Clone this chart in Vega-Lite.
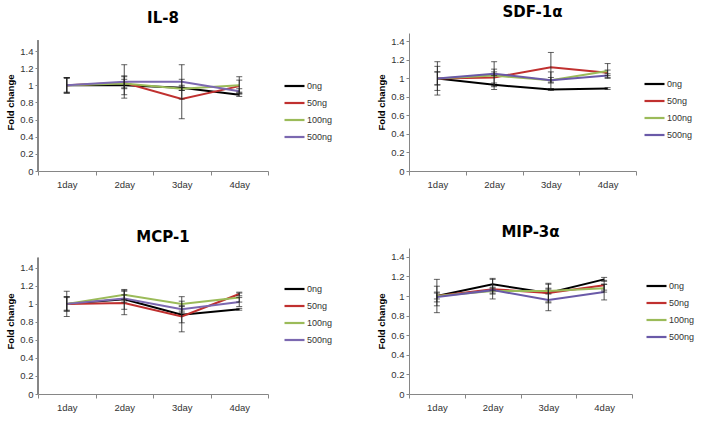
{
  "$schema": "https://vega.github.io/schema/vega-lite/v6.json",
  "background": "white",
  "padding": {"left": 5, "top": 5, "right": 5, "bottom": 5},
  "datasets": {
    "d": [
      {"p": "IL-8", "day": "1day", "dose": "0ng", "v": 1.0, "lo": 0.91, "hi": 1.09},
      {"p": "IL-8", "day": "1day", "dose": "50ng", "v": 1.0, "lo": 0.91, "hi": 1.09},
      {"p": "IL-8", "day": "1day", "dose": "100ng", "v": 1.0, "lo": 0.92, "hi": 1.08},
      {"p": "IL-8", "day": "1day", "dose": "500ng", "v": 1.0, "lo": 0.91, "hi": 1.09},
      {"p": "IL-8", "day": "2day", "dose": "0ng", "v": 1.0, "lo": 0.89, "hi": 1.11},
      {"p": "IL-8", "day": "2day", "dose": "50ng", "v": 1.03, "lo": 0.96, "hi": 1.10},
      {"p": "IL-8", "day": "2day", "dose": "100ng", "v": 1.02, "lo": 0.97, "hi": 1.07},
      {"p": "IL-8", "day": "2day", "dose": "500ng", "v": 1.04, "lo": 0.85, "hi": 1.24},
      {"p": "IL-8", "day": "3day", "dose": "0ng", "v": 0.97, "lo": 0.94, "hi": 1.0},
      {"p": "IL-8", "day": "3day", "dose": "50ng", "v": 0.84, "lo": 0.61, "hi": 1.07},
      {"p": "IL-8", "day": "3day", "dose": "100ng", "v": 0.96, "lo": 0.94, "hi": 0.98},
      {"p": "IL-8", "day": "3day", "dose": "500ng", "v": 1.04, "lo": 0.84, "hi": 1.24},
      {"p": "IL-8", "day": "4day", "dose": "0ng", "v": 0.89, "lo": 0.87, "hi": 0.91},
      {"p": "IL-8", "day": "4day", "dose": "50ng", "v": 0.99, "lo": 0.92, "hi": 1.06},
      {"p": "IL-8", "day": "4day", "dose": "100ng", "v": 1.0, "lo": 0.90, "hi": 1.10},
      {"p": "IL-8", "day": "4day", "dose": "500ng", "v": 0.93, "lo": 0.90, "hi": 0.96},

      {"p": "SDF-1α", "day": "1day", "dose": "0ng", "v": 1.0, "lo": 0.93, "hi": 1.07},
      {"p": "SDF-1α", "day": "1day", "dose": "50ng", "v": 1.0, "lo": 0.82, "hi": 1.18},
      {"p": "SDF-1α", "day": "1day", "dose": "100ng", "v": 1.0, "lo": 0.87, "hi": 1.13},
      {"p": "SDF-1α", "day": "1day", "dose": "500ng", "v": 1.0, "lo": 0.93, "hi": 1.07},
      {"p": "SDF-1α", "day": "2day", "dose": "0ng", "v": 0.93, "lo": 0.91, "hi": 0.95},
      {"p": "SDF-1α", "day": "2day", "dose": "50ng", "v": 1.01, "lo": 0.92, "hi": 1.10},
      {"p": "SDF-1α", "day": "2day", "dose": "100ng", "v": 1.03, "lo": 0.88, "hi": 1.18},
      {"p": "SDF-1α", "day": "2day", "dose": "500ng", "v": 1.05, "lo": 1.03, "hi": 1.07},
      {"p": "SDF-1α", "day": "3day", "dose": "0ng", "v": 0.88, "lo": 0.87, "hi": 0.89},
      {"p": "SDF-1α", "day": "3day", "dose": "50ng", "v": 1.12, "lo": 0.96, "hi": 1.28},
      {"p": "SDF-1α", "day": "3day", "dose": "100ng", "v": 0.98, "lo": 0.95, "hi": 1.01},
      {"p": "SDF-1α", "day": "3day", "dose": "500ng", "v": 0.98, "lo": 0.89, "hi": 1.07},
      {"p": "SDF-1α", "day": "4day", "dose": "0ng", "v": 0.89, "lo": 0.88, "hi": 0.90},
      {"p": "SDF-1α", "day": "4day", "dose": "50ng", "v": 1.06, "lo": 1.03, "hi": 1.09},
      {"p": "SDF-1α", "day": "4day", "dose": "100ng", "v": 1.08, "lo": 1.00, "hi": 1.16},
      {"p": "SDF-1α", "day": "4day", "dose": "500ng", "v": 1.03, "lo": 1.01, "hi": 1.05},

      {"p": "MCP-1", "day": "1day", "dose": "0ng", "v": 1.0, "lo": 0.92, "hi": 1.08},
      {"p": "MCP-1", "day": "1day", "dose": "50ng", "v": 1.0, "lo": 0.86, "hi": 1.14},
      {"p": "MCP-1", "day": "1day", "dose": "100ng", "v": 1.0, "lo": 0.93, "hi": 1.07},
      {"p": "MCP-1", "day": "1day", "dose": "500ng", "v": 1.0, "lo": 0.92, "hi": 1.08},
      {"p": "MCP-1", "day": "2day", "dose": "0ng", "v": 1.05, "lo": 0.94, "hi": 1.16},
      {"p": "MCP-1", "day": "2day", "dose": "50ng", "v": 1.01, "lo": 0.88, "hi": 1.14},
      {"p": "MCP-1", "day": "2day", "dose": "100ng", "v": 1.10, "lo": 1.05, "hi": 1.15},
      {"p": "MCP-1", "day": "2day", "dose": "500ng", "v": 1.06, "lo": 1.02, "hi": 1.10},
      {"p": "MCP-1", "day": "3day", "dose": "0ng", "v": 0.88, "lo": 0.79, "hi": 0.97},
      {"p": "MCP-1", "day": "3day", "dose": "50ng", "v": 0.86, "lo": 0.69, "hi": 1.03},
      {"p": "MCP-1", "day": "3day", "dose": "100ng", "v": 1.0, "lo": 0.92, "hi": 1.08},
      {"p": "MCP-1", "day": "3day", "dose": "500ng", "v": 0.94, "lo": 0.90, "hi": 0.98},
      {"p": "MCP-1", "day": "4day", "dose": "0ng", "v": 0.94, "lo": 0.93, "hi": 0.95},
      {"p": "MCP-1", "day": "4day", "dose": "50ng", "v": 1.11, "lo": 1.09, "hi": 1.13},
      {"p": "MCP-1", "day": "4day", "dose": "100ng", "v": 1.07, "lo": 1.02, "hi": 1.12},
      {"p": "MCP-1", "day": "4day", "dose": "500ng", "v": 1.02, "lo": 0.97, "hi": 1.07},

      {"p": "MIP-3α", "day": "1day", "dose": "0ng", "v": 1.0, "lo": 0.83, "hi": 1.17},
      {"p": "MIP-3α", "day": "1day", "dose": "50ng", "v": 1.0, "lo": 0.90, "hi": 1.10},
      {"p": "MIP-3α", "day": "1day", "dose": "100ng", "v": 1.0, "lo": 0.97, "hi": 1.03},
      {"p": "MIP-3α", "day": "1day", "dose": "500ng", "v": 0.99, "lo": 0.94, "hi": 1.04},
      {"p": "MIP-3α", "day": "2day", "dose": "0ng", "v": 1.12, "lo": 1.06, "hi": 1.18},
      {"p": "MIP-3α", "day": "2day", "dose": "50ng", "v": 1.07, "lo": 0.97, "hi": 1.17},
      {"p": "MIP-3α", "day": "2day", "dose": "100ng", "v": 1.05, "lo": 1.02, "hi": 1.08},
      {"p": "MIP-3α", "day": "2day", "dose": "500ng", "v": 1.06, "lo": 1.03, "hi": 1.09},
      {"p": "MIP-3α", "day": "3day", "dose": "0ng", "v": 1.03, "lo": 0.93, "hi": 1.13},
      {"p": "MIP-3α", "day": "3day", "dose": "50ng", "v": 1.03, "lo": 0.94, "hi": 1.12},
      {"p": "MIP-3α", "day": "3day", "dose": "100ng", "v": 1.05, "lo": 1.02, "hi": 1.08},
      {"p": "MIP-3α", "day": "3day", "dose": "500ng", "v": 0.96, "lo": 0.85, "hi": 1.07},
      {"p": "MIP-3α", "day": "4day", "dose": "0ng", "v": 1.17, "lo": 1.15, "hi": 1.19},
      {"p": "MIP-3α", "day": "4day", "dose": "50ng", "v": 1.11, "lo": 1.06, "hi": 1.16},
      {"p": "MIP-3α", "day": "4day", "dose": "100ng", "v": 1.08, "lo": 1.04, "hi": 1.12},
      {"p": "MIP-3α", "day": "4day", "dose": "500ng", "v": 1.04, "lo": 0.96, "hi": 1.12}
    ]
  },
  "config": {
    "view": {"stroke": null},
    "font": "Liberation Sans",
    "axis": {"grid": false, "domainColor": "#868686", "tickColor": "#868686", "labelColor": "#333333", "labelFontSize": 9.5, "labelFont": "Liberation Sans", "titleFont": "Liberation Sans", "titleFontSize": 9.5, "titleFontWeight": "bold", "titleColor": "#000000"},
    "axisX": {"title": null, "labelAngle": 0, "tickBand": "extent", "tickSize": 4, "labelPadding": 4},
    "axisY": {"tickSize": 3, "labelPadding": 2, "titlePadding": 4},
    "title": {"font": "DejaVu Sans", "fontSize": 15, "fontWeight": "bold", "color": "#000000", "dx": 10},
    "legend": {"orient": "none", "symbolType": "stroke", "symbolSize": 400, "symbolStrokeWidth": 2.2, "clipHeight": 14, "rowPadding": 3, "labelFontSize": 9, "labelColor": "#333333", "labelOffset": 1, "padding": 0, "title": null}
  },
  "spacing": 36,
  "resolve": {"scale": {"color": "independent"}, "legend": {"color": "independent"}},
  "vconcat": [
    {
      "spacing": 43,
      "resolve": {"scale": {"color": "independent"}, "legend": {"color": "independent"}},
      "hconcat": [
        {
          "width": 230, "height": 138,
          "title": {"text": "IL-8", "offset": 7},
          "data": {"name": "d"},
          "transform": [{"filter": "datum.p === 'IL-8'"}],
          "encoding": {"x": {"field": "day", "type": "nominal", "sort": ["1day", "2day", "3day", "4day"], "scale": {"type": "band", "paddingInner": 0, "paddingOuter": 0}}},
          "layer": [
            {"mark": {"type": "rule", "color": "#868686", "strokeWidth": 1}, "encoding": {
              "x": {"datum": "1day", "type": "nominal", "bandPosition": 0},
              "y": {"datum": 0, "type": "quantitative", "axis": {"title": "Fold change", "domain": false, "values": [0, 0.2, 0.4, 0.6, 0.8, 1, 1.2, 1.4], "format": "~g", "labelOverlap": false}}, "y2": {"datum": 1.52}}},
            {"mark": {"type": "line", "strokeWidth": 2}, "encoding": {
              "y": {"field": "v", "type": "quantitative", "scale": {"domain": [0, 1.61], "nice": false}, "axis": {"title": "Fold change", "domain": false, "values": [0, 0.2, 0.4, 0.6, 0.8, 1, 1.2, 1.4], "format": "~g", "labelOverlap": false}},
              "color": {"field": "dose", "type": "nominal", "sort": ["0ng", "50ng", "100ng", "500ng"], "scale": {"domain": ["0ng", "50ng", "100ng", "500ng"], "range": ["#000000", "#c0302f", "#9bbb59", "#7b68b0"]}, "legend": {"legendX": 245, "legendY": 46}}}},
            {"mark": {"type": "errorbar", "color": "#222222", "thickness": 0.8, "ticks": {"size": 6, "thickness": 1}}, "encoding": {
              "y": {"field": "lo", "type": "quantitative", "axis": {"title": "Fold change", "domain": false, "values": [0, 0.2, 0.4, 0.6, 0.8, 1, 1.2, 1.4], "format": "~g", "labelOverlap": false}}, "y2": {"field": "hi"}, "detail": {"field": "dose"}}}
          ]
        },
        {
          "width": 227, "height": 138,
          "title": {"text": "SDF-1α", "offset": 13},
          "data": {"name": "d"},
          "transform": [{"filter": "datum.p === 'SDF-1α'"}],
          "encoding": {"x": {"field": "day", "type": "nominal", "sort": ["1day", "2day", "3day", "4day"], "scale": {"type": "band", "paddingInner": 0, "paddingOuter": 0}}},
          "layer": [
            {"mark": {"type": "line", "strokeWidth": 2}, "encoding": {
              "y": {"field": "v", "type": "quantitative", "scale": {"domain": [0, 1.49], "nice": false}, "axis": {"title": "Fold change", "values": [0, 0.2, 0.4, 0.6, 0.8, 1, 1.2, 1.4], "format": "~g"}},
              "color": {"field": "dose", "type": "nominal", "sort": ["0ng", "50ng", "100ng", "500ng"], "scale": {"domain": ["0ng", "50ng", "100ng", "500ng"], "range": ["#000000", "#c0302f", "#9bbb59", "#6a5aa8"]}, "legend": {"legendX": 234, "legendY": 44}}}},
            {"mark": {"type": "errorbar", "color": "#222222", "thickness": 0.8, "ticks": {"size": 6, "thickness": 1}}, "encoding": {
              "y": {"field": "lo", "type": "quantitative", "axis": {"title": "Fold change", "values": [0, 0.2, 0.4, 0.6, 0.8, 1, 1.2, 1.4], "format": "~g"}}, "y2": {"field": "hi"}, "detail": {"field": "dose"}}}
          ]
        }
      ]
    },
    {
      "spacing": 43,
      "resolve": {"scale": {"color": "independent"}, "legend": {"color": "independent"}},
      "hconcat": [
        {
          "width": 230, "height": 146,
          "title": {"text": "MCP-1", "offset": 3},
          "data": {"name": "d"},
          "transform": [{"filter": "datum.p === 'MCP-1'"}],
          "encoding": {"x": {"field": "day", "type": "nominal", "sort": ["1day", "2day", "3day", "4day"], "scale": {"type": "band", "paddingInner": 0, "paddingOuter": 0}}},
          "layer": [
            {"mark": {"type": "rule", "color": "#868686", "strokeWidth": 1}, "encoding": {
              "x": {"datum": "1day", "type": "nominal", "bandPosition": 0},
              "y": {"datum": 0, "type": "quantitative", "axis": {"title": "Fold change", "domain": false, "values": [0, 0.2, 0.4, 0.6, 0.8, 1, 1.2, 1.4], "format": "~g", "labelOverlap": false}}, "y2": {"datum": 1.51}}},
            {"mark": {"type": "line", "strokeWidth": 2}, "encoding": {
              "y": {"field": "v", "type": "quantitative", "scale": {"domain": [0, 1.62], "nice": false}, "axis": {"title": "Fold change", "domain": false, "values": [0, 0.2, 0.4, 0.6, 0.8, 1, 1.2, 1.4], "format": "~g", "labelOverlap": false}},
              "color": {"field": "dose", "type": "nominal", "sort": ["0ng", "50ng", "100ng", "500ng"], "scale": {"domain": ["0ng", "50ng", "100ng", "500ng"], "range": ["#000000", "#c0302f", "#9bbb59", "#7b68b0"]}, "legend": {"legendX": 245, "legendY": 34}}}},
            {"mark": {"type": "errorbar", "color": "#222222", "thickness": 0.8, "ticks": {"size": 6, "thickness": 1}}, "encoding": {
              "y": {"field": "lo", "type": "quantitative", "axis": {"title": "Fold change", "domain": false, "values": [0, 0.2, 0.4, 0.6, 0.8, 1, 1.2, 1.4], "format": "~g", "labelOverlap": false}}, "y2": {"field": "hi"}, "detail": {"field": "dose"}}}
          ]
        },
        {
          "width": 223, "height": 146,
          "title": {"text": "MIP-3α", "offset": 8},
          "data": {"name": "d"},
          "transform": [{"filter": "datum.p === 'MIP-3α'"}],
          "encoding": {"x": {"field": "day", "type": "nominal", "sort": ["1day", "2day", "3day", "4day"], "scale": {"type": "band", "paddingInner": 0, "paddingOuter": 0}}},
          "layer": [
            {"mark": {"type": "line", "strokeWidth": 2}, "encoding": {
              "y": {"field": "v", "type": "quantitative", "scale": {"domain": [0, 1.49], "nice": false}, "axis": {"title": "Fold change", "values": [0, 0.2, 0.4, 0.6, 0.8, 1, 1.2, 1.4], "format": "~g"}},
              "color": {"field": "dose", "type": "nominal", "sort": ["0ng", "50ng", "100ng", "500ng"], "scale": {"domain": ["0ng", "50ng", "100ng", "500ng"], "range": ["#000000", "#c0302f", "#9bbb59", "#6a5aa8"]}, "legend": {"legendX": 236, "legendY": 31}}}},
            {"mark": {"type": "errorbar", "color": "#222222", "thickness": 0.8, "ticks": {"size": 6, "thickness": 1}}, "encoding": {
              "y": {"field": "lo", "type": "quantitative", "axis": {"title": "Fold change", "values": [0, 0.2, 0.4, 0.6, 0.8, 1, 1.2, 1.4], "format": "~g"}}, "y2": {"field": "hi"}, "detail": {"field": "dose"}}}
          ]
        }
      ]
    }
  ]
}
